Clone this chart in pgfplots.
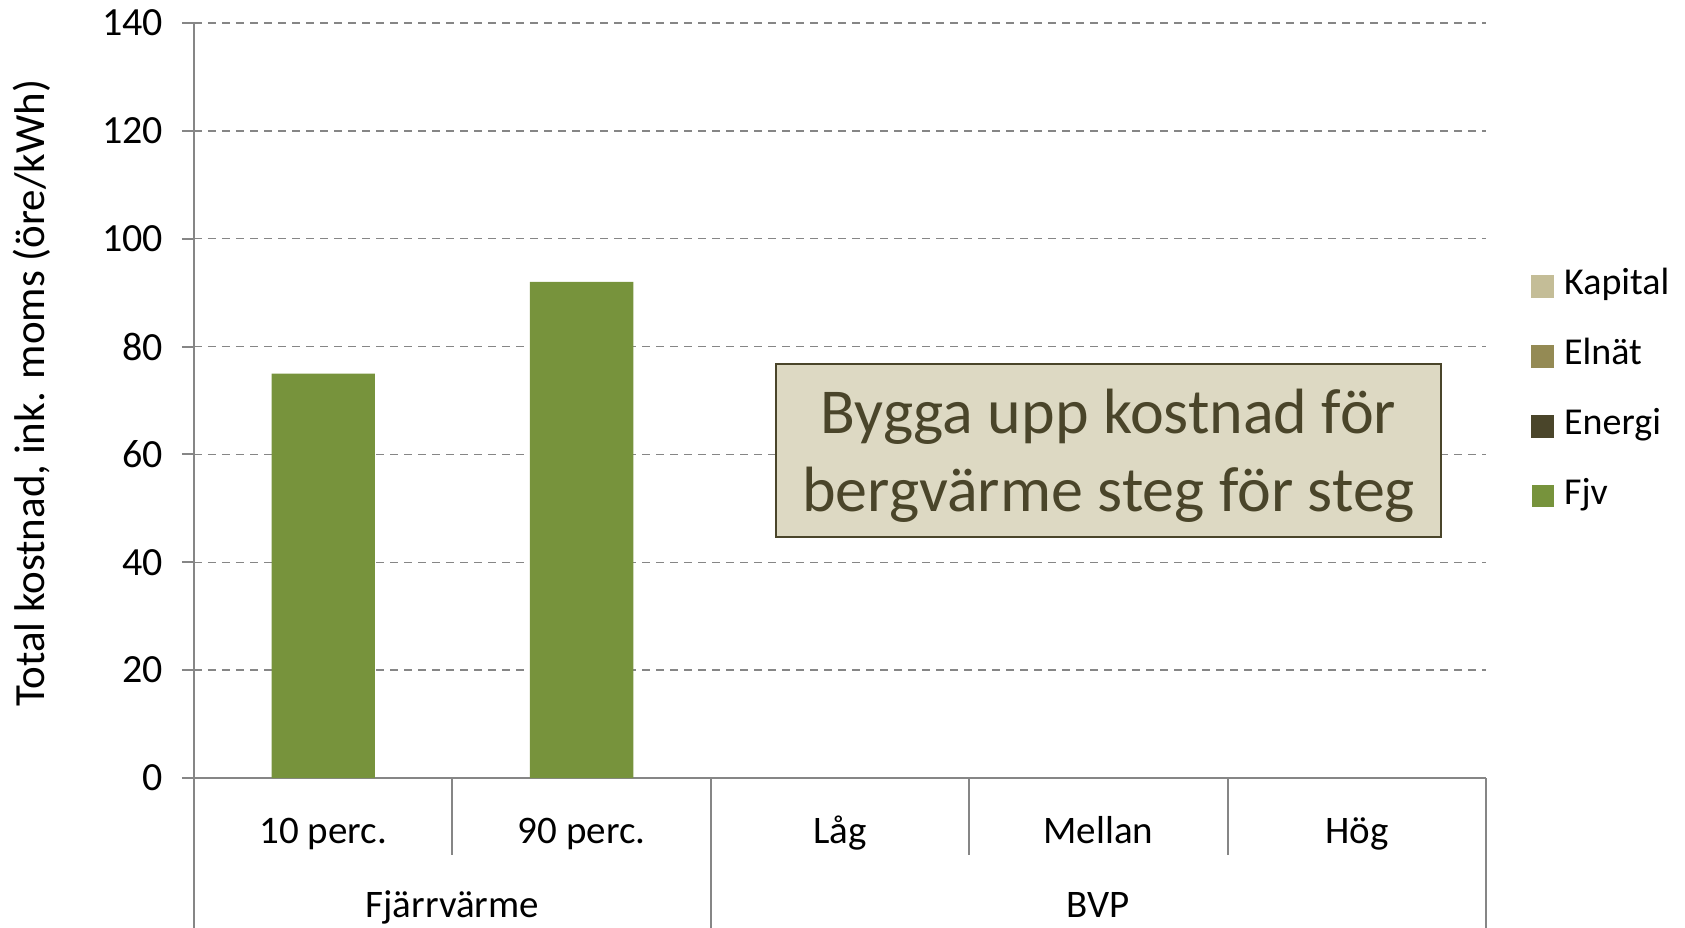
\documentclass[border=0pt]{standalone}
\usepackage{pgfplots}
\pgfplotsset{compat=1.18}
\usepackage{fontspec}
\setmainfont{Carlito}
\definecolor{axgray}{HTML}{868686}
\definecolor{kap}{HTML}{C4BD97}
\definecolor{eln}{HTML}{948A54}
\definecolor{ene}{HTML}{4A452A}
\definecolor{fjv}{HTML}{77933C}
\definecolor{boxfill}{HTML}{DDD9C3}
\begin{document}
\begin{tikzpicture}
\useasboundingbox (0,0) rectangle (842.5pt,463.5pt);
\begin{axis}[
  at={(97pt,74.5pt)}, anchor=south west,
  scale only axis, width=646pt, height=377.5pt,
  xmin=-0.5, xmax=4.5, ymin=0, ymax=140,
  ytick={0,20,...,140},
  xtick={0,1,2,3,4},
  xticklabels={10 perc., 90 perc., Låg, Mellan, Hög},
  x tick style={draw=none},
  xticklabel style={anchor=base, yshift=-26.5pt, font=\fontsize{19.5}{23}\selectfont},
  axis lines*=left,
  axis line style={axgray, line width=1pt, -},
  y tick style={axgray, line width=1pt},
  major tick length=6pt,
  tick align=outside,
  ymajorgrids,
  major grid style={axgray, line width=0.7pt, dash pattern=on 4pt off 3pt},
  tick label style={text=black},
  yticklabel style={xshift=-6pt, font=\fontsize{20}{24}\selectfont},
  /pgf/number format/assume math mode=true,
  ylabel={Total kostnad, ink. moms (öre/kWh)},
  ylabel style={at={(axis description cs:-0.1254,0.51)}, anchor=center, rotate=0, font=\fontsize{21.5}{25}\selectfont},
  clip=false,
  legend cell align=left,
  legend style={draw=none, fill=none, at={(axis description cs:1.0348,0.512)}, anchor=west,
    font=\fontsize{19}{22}\selectfont, row sep=19pt, inner sep=0pt,
    nodes={inner sep=0pt, text height=12pt, text depth=4pt}, column sep=5pt},
  legend image code/.code={\fill[#1] (0pt,-5.5pt) rectangle (11pt,5.5pt);},
]
\addlegendimage{kap}
\addlegendentry{Kapital}
\addlegendimage{eln}
\addlegendentry{Elnät}
\addlegendimage{ene}
\addlegendentry{Energi}
\addplot[ybar, bar width=0.4, fill=fjv, draw=none] coordinates {(0,75) (1,92)};
\addlegendentry{Fjv}
% category separators
\draw[axgray, line width=1pt] (axis cs:0.5,0) -- ++(0pt,-38.5pt);
\draw[axgray, line width=1pt] (axis cs:2.5,0) -- ++(0pt,-38.5pt);
\draw[axgray, line width=1pt] (axis cs:3.5,0) -- ++(0pt,-38.5pt);
\draw[axgray, line width=1pt] (axis cs:-0.5,0) -- ++(0pt,-80pt);
\draw[axgray, line width=1pt] (axis cs:1.5,0) -- ++(0pt,-80pt);
\draw[axgray, line width=1pt] (axis cs:4.5,0) -- ++(0pt,-80pt);
\node[font=\fontsize{19.5}{23}\selectfont, anchor=base] at (axis cs:0.5,0) [yshift=-69.5pt] {Fjärrvärme};
\node[font=\fontsize{19.5}{23}\selectfont, anchor=base] at (axis cs:3,0) [yshift=-69.5pt] {BVP};
\node[draw=ene, line width=1pt, fill=boxfill, minimum width=332.5pt, minimum height=86.5pt,
  inner sep=0pt] at (axis cs:3.039,60.7) {};
\node[text=ene, align=center, font=\fontsize{32}{39}\selectfont, inner sep=0pt]
  at (axis cs:3.039,60.7) [yshift=-2.7pt] {Bygga upp kostnad för\\bergvärme steg för steg};
\end{axis}
\end{tikzpicture}
\end{document}
